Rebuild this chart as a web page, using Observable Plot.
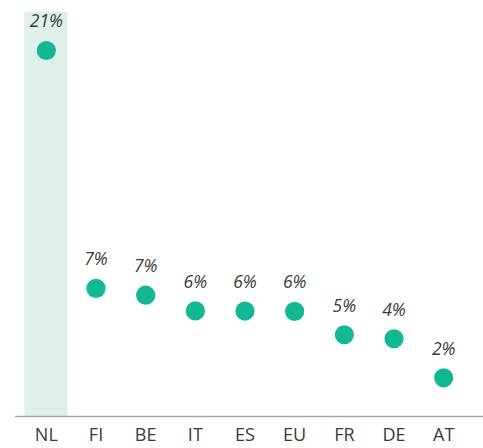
<!DOCTYPE html>
<html>
<head>
<meta charset="utf-8">
<script src="https://cdn.jsdelivr.net/npm/d3@7"></script>
<script src="https://cdn.jsdelivr.net/npm/@observablehq/plot@0.6"></script>
<style>
  html, body { margin: 0; padding: 0; background: #fff; }
  #chart svg { display: block; }
</style>
</head>
<body>
<div id="chart"></div>
<script>
const countries = ["NL", "FI", "BE", "IT", "ES", "EU", "FR", "DE", "AT"];
const values = [21.0, 7.35, 6.96, 6.06, 6.05, 6.03, 4.69, 4.46, 2.22];
const labels = ["21%", "7%", "7%", "6%", "6%", "6%", "5%", "4%", "2%"];
const highlighted = ["NL"];
const yMax = 23.18;

const data = countries.map((c, i) => ({country: c, value: values[i], label: labels[i]}));

const chart = Plot.plot({
  width: 483,
  height: 448,
  marginTop: 12,
  marginBottom: 32,
  marginLeft: 21,
  marginRight: 15,
  style: {fontFamily: "'Open Sans', sans-serif", fontSize: "16px", color: "#333", background: "#fff"},
  x: {domain: countries, paddingInner: 0.13, paddingOuter: 0.065, round: false, label: null},
  y: {domain: [0, yMax], axis: null},
  marks: [
    Plot.barY(highlighted, {x: d => d, y1: 0, y2: yMax, fill: "#dff0ea"}),
    Plot.ruleY([0], {stroke: "#a6a6a6", strokeWidth: 1.3, insetLeft: -6, insetRight: -15}),
    Plot.axisX({tickSize: 0, tickPadding: 12, fontSize: 18, fill: "#3a3a3a", label: null}),
    Plot.dot(data, {x: "country", y: "value", r: 9.6, fill: "#12b893", stroke: "none"}),
    Plot.text(data, {x: "country", y: "value", text: "label", dy: -23, lineAnchor: "bottom",
      fontStyle: "italic", fontSize: 17.5, fill: "#3a3a3a"})
  ]
});
document.getElementById("chart").appendChild(chart);
</script>
</body>
</html>
